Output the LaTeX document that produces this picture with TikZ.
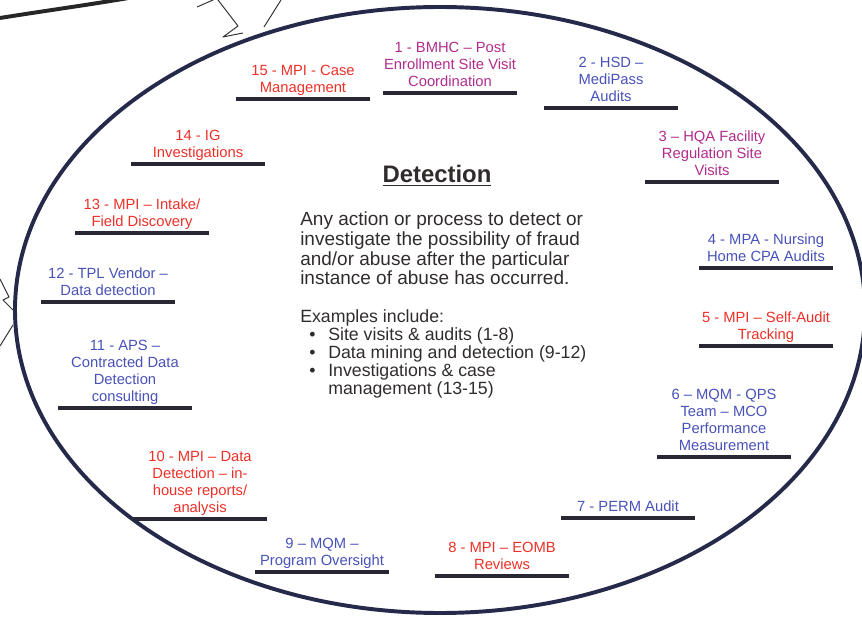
\documentclass[tikz,border=0pt]{standalone}
\usepackage{fontspec}
\setmainfont{Liberation Sans}
\usetikzlibrary{positioning}

\definecolor{ringc}{RGB}{38,42,74}
\definecolor{barc}{RGB}{40,40,52}
\definecolor{lblred}{RGB}{236,48,40}
\definecolor{lblmag}{RGB}{176,44,140}
\definecolor{lblblue}{RGB}{72,82,184}
\definecolor{txtc}{RGB}{48,44,44}

\newcommand{\bul}{\makebox[7mm][l]{\hspace{2.3mm}\textbullet}}

\tikzset{
	ring/.style = {draw = ringc, line width = 2.8pt},
	bar/.style = {fill = barc, minimum width = 3.33cm, minimum height = 0.11cm, inner sep = 0pt},
	lbl/.style = {align = center, inner sep = 0pt, text depth = 0pt, font = \fontsize{10.5}{12.2}\selectfont},
	chevron/.style = {draw = black!80, line width = 0.7pt, line join = round},
}

\begin{document}
\begin{tikzpicture}[x = 0.025cm, y = -0.025cm]
	\useasboundingbox (0, 0) rectangle (862, 622);

	% outline and the pieces of the neighbouring shapes
	\draw [ring] (440, 310) ellipse [x radius = 425, y radius = 303];
	\draw [ring, draw = black!85] (0, 18) .. controls (50, 10) and (95, 4) .. (140, -4);
	\draw [chevron] (197, 7) -- (213, 0);
	\draw [chevron] (218, 0) -- (238, 26) -- (223, 37) -- (243, 33);
	\draw [chevron] (281, 0) -- (264, 27);
	\draw [chevron] (0, 279) -- (9, 297) -- (3, 300) -- (14, 311);
	\draw [chevron] (0, 346) -- (13, 325);

	% centre text
	\node [anchor = base, inner sep = 0pt, text = txtc, font = \fontsize{17}{20}\selectfont\bfseries] (title) at (437, 183) {\underline{Detection}};
	\node [anchor = base west, inner sep = 0pt, align = left, text = txtc, font = \fontsize{13.5}{14.2}\selectfont] (desc) at (300, 285)
		{Any action or process to detect or\\investigate the possibility of fraud\\and/or abuse after the particular\\instance of abuse has occurred.};
	\node [anchor = base west, inner sep = 0pt, align = left, text = txtc, font = \fontsize{12.6}{12.9}\selectfont] (examples) at (300, 395)
		{Examples include:\\
		\bul Site visits \& audits (1-8)\\
		\bul Data mining and detection (9-12)\\
		\bul Investigations \& case\\
		\hspace*{7mm}management (13-15)};

	% bars
	\node [bar] (b1) at (450, 93) {};
	\node [bar] (b2) at (611, 108) {};
	\node [bar] (b3) at (712, 182) {};
	\node [bar] (b4) at (766, 268) {};
	\node [bar] (b5) at (766, 346) {};
	\node [bar] (b6) at (724, 457) {};
	\node [bar] (b7) at (628, 518) {};
	\node [bar] (b8) at (502, 576) {};
	\node [bar] (b9) at (322, 572) {};
	\node [bar] (b10) at (200, 519) {};
	\node [bar] (b11) at (125, 408) {};
	\node [bar] (b12) at (108, 302) {};
	\node [bar] (b13) at (142, 233) {};
	\node [bar] (b14) at (198, 164) {};
	\node [bar] (b15) at (303, 99) {};

	% labels
	\node [lbl, text = lblmag, above = 2.4pt of b1] (l1) {1 - BMHC – Post\\Enrollment Site Visit\\Coordination};
	\node [lbl, text = lblblue, above = 2.4pt of b2] (l2) {2 - HSD –\\MediPass\\Audits};
	\node [lbl, text = lblmag, above = 2.4pt of b3] (l3) {3 – HQA Facility\\Regulation Site\\Visits};
	\node [lbl, text = lblblue, above = 2.4pt of b4] (l4) {4 - MPA - Nursing\\Home CPA Audits};
	\node [lbl, text = lblred, above = 2.4pt of b5] (l5) {5 - MPI – Self-Audit\\Tracking};
	\node [lbl, text = lblblue, above = 2.4pt of b6] (l6) {6 – MQM - QPS\\Team – MCO\\Performance\\Measurement};
	\node [lbl, text = lblblue, above = 2.4pt of b7] (l7) {7 - PERM Audit};
	\node [lbl, text = lblred, above = 2.4pt of b8] (l8) {8 - MPI – EOMB\\Reviews};
	\node [lbl, text = lblblue, above = 2.4pt of b9] (l9) {9 – MQM –\\Program Oversight};
	\node [lbl, text = lblred, above = 2.4pt of b10] (l10) {10 - MPI – Data\\Detection – in-\\house reports/\\analysis};
	\node [lbl, text = lblblue, above = 2.4pt of b11] (l11) {11 - APS –\\Contracted Data\\Detection\\consulting};
	\node [lbl, text = lblblue, above = 2.4pt of b12] (l12) {12 - TPL Vendor –\\Data detection};
	\node [lbl, text = lblred, above = 2.4pt of b13] (l13) {13 - MPI – Intake/\\Field Discovery};
	\node [lbl, text = lblred, above = 2.4pt of b14] (l14) {14 - IG\\Investigations};
	\node [lbl, text = lblred, above = 2.4pt of b15] (l15) {15 - MPI - Case\\Management};
\end{tikzpicture}
\end{document}
